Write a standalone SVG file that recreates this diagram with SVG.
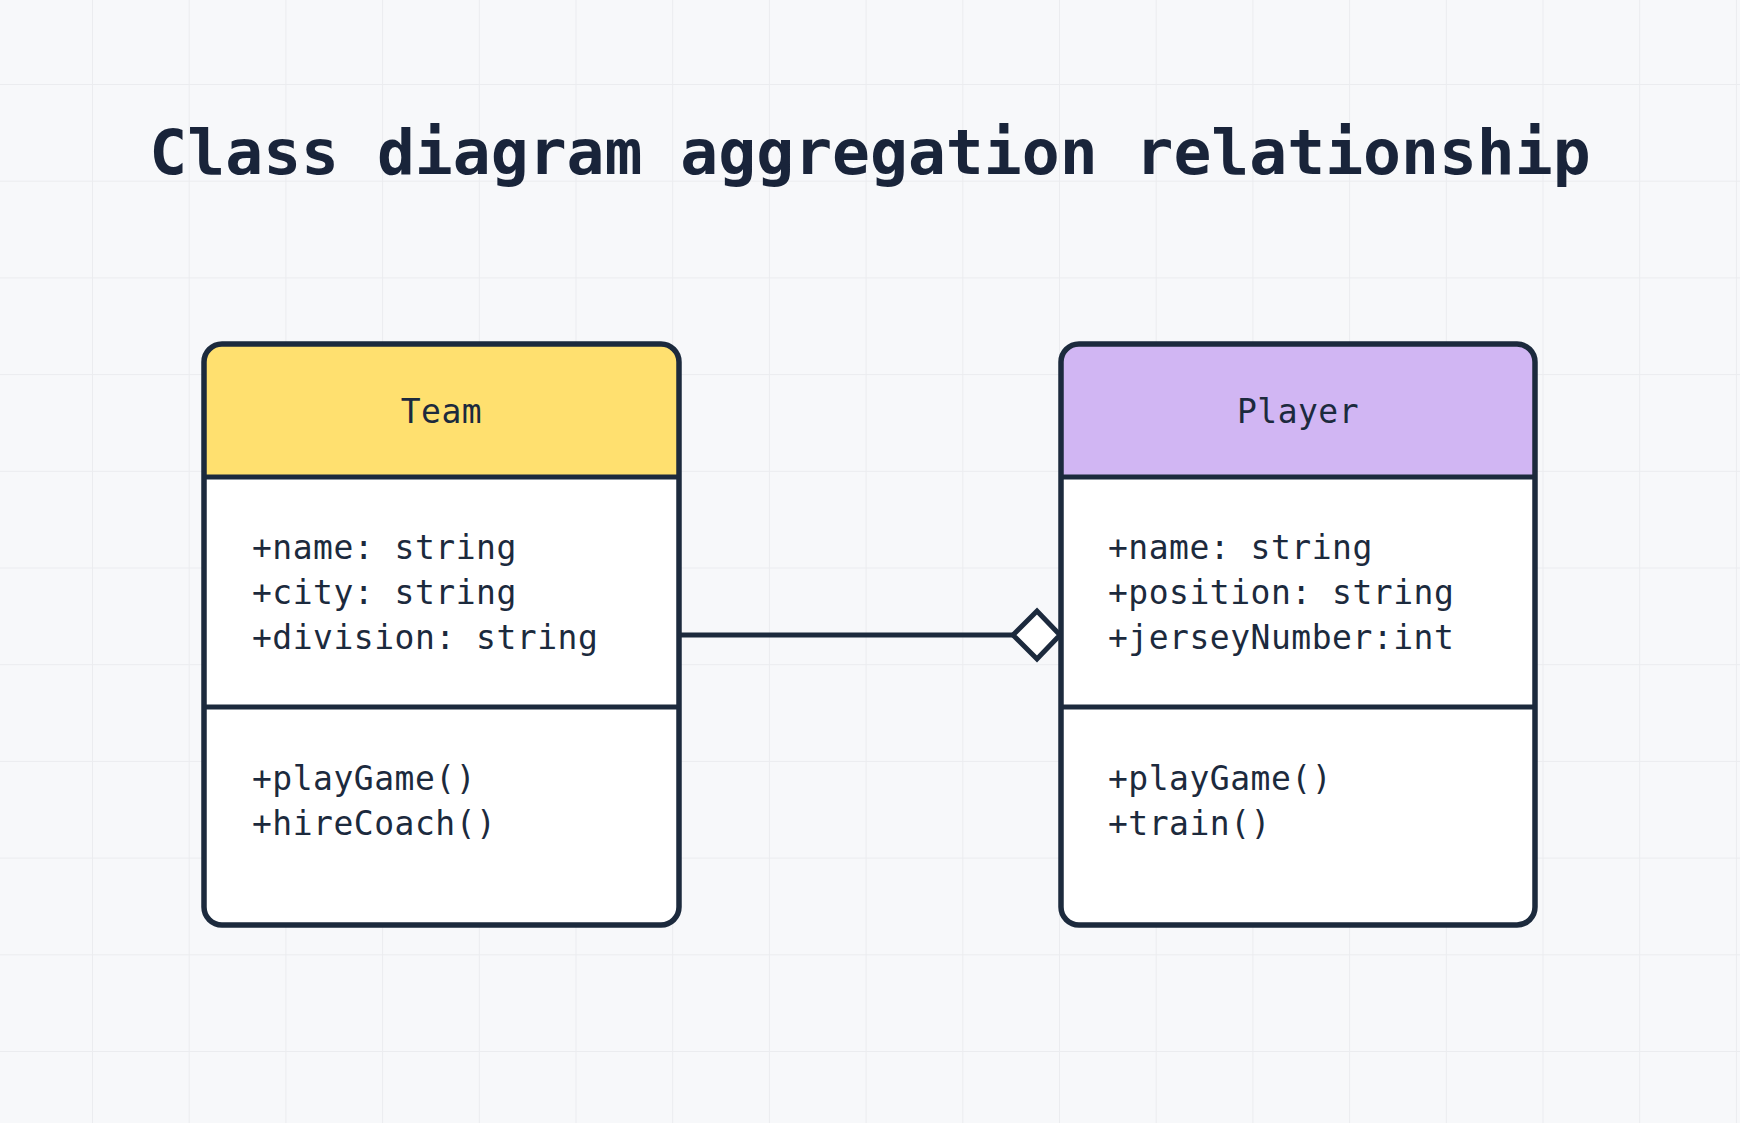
<svg xmlns="http://www.w3.org/2000/svg" width="1740" height="1123" viewBox="0 0 1740 1123">
  <defs>
    <pattern id="grid" x="-3.7" y="-11.7" width="96.7" height="96.7" patternUnits="userSpaceOnUse">
      <path d="M96.7 0 V96.7 M0 96.7 H96.7" fill="none" stroke="#ebecef" stroke-width="2"/>
    </pattern>
  </defs>
  <style>
    .box { fill: none; stroke: #1c2a3d; stroke-width: 5.5; }
    .body { fill: #ffffff; }
    .sep { stroke: #1c2a3d; stroke-width: 5; }
    .title { font-family: "DejaVu Sans Mono", "Liberation Mono", monospace; font-weight: bold; font-size: 63px; fill: #19243a; }
    .hdr { font-family: "DejaVu Sans Mono", "Liberation Mono", monospace; font-size: 33px; fill: #1c2a3d; text-anchor: middle; letter-spacing: 0.5px; }
    .mem { font-family: "DejaVu Sans Mono", "Liberation Mono", monospace; font-size: 33px; fill: #1c2a3d; letter-spacing: 0.5px; }
    .conn { fill: none; stroke: #1c2a3d; stroke-width: 5; }
  </style>
  <rect width="1740" height="1123" fill="#f7f8fa"/>
  <rect width="1740" height="1123" fill="url(#grid)"/>

  <text class="title" x="870" y="174" text-anchor="middle">Class diagram aggregation relationship</text>

  <g id="connectors">
    <line class="conn" x1="679" y1="635" x2="1015" y2="635"/>
    <path class="conn" d="M1013 635 L1037 611 L1060 635 L1037 659 Z" style="fill:#ffffff"/>
  </g>

  <g id="team">
    <rect class="body" x="204" y="344" width="475" height="581" rx="18"/>
    <path d="M204 477 V362 A18 18 0 0 1 222 344 H661 A18 18 0 0 1 679 362 V477 Z" fill="#ffe06f"/>
    <line class="sep" x1="204" y1="477" x2="679" y2="477"/>
    <line class="sep" x1="204" y1="707" x2="679" y2="707"/>
    <rect class="box" x="204" y="344" width="475" height="581" rx="18"/>
    <text class="hdr" x="441.5" y="423">Team</text>
    <text class="mem" x="252" y="559">+name: string</text>
    <text class="mem" x="252" y="604">+city: string</text>
    <text class="mem" x="252" y="649">+division: string</text>
    <text class="mem" x="252" y="790">+playGame()</text>
    <text class="mem" x="252" y="835">+hireCoach()</text>
  </g>

  <g id="player">
    <rect class="body" x="1061" y="344" width="474" height="581" rx="18"/>
    <path d="M1061 477 V362 A18 18 0 0 1 1079 344 H1517 A18 18 0 0 1 1535 362 V477 Z" fill="#d1b6f3"/>
    <line class="sep" x1="1061" y1="477" x2="1535" y2="477"/>
    <line class="sep" x1="1061" y1="707" x2="1535" y2="707"/>
    <rect class="box" x="1061" y="344" width="474" height="581" rx="18"/>
    <text class="hdr" x="1298" y="423">Player</text>
    <text class="mem" x="1108" y="559">+name: string</text>
    <text class="mem" x="1108" y="604">+position: string</text>
    <text class="mem" x="1108" y="649">+jerseyNumber:int</text>
    <text class="mem" x="1108" y="790">+playGame()</text>
    <text class="mem" x="1108" y="835">+train()</text>
  </g>
</svg>
